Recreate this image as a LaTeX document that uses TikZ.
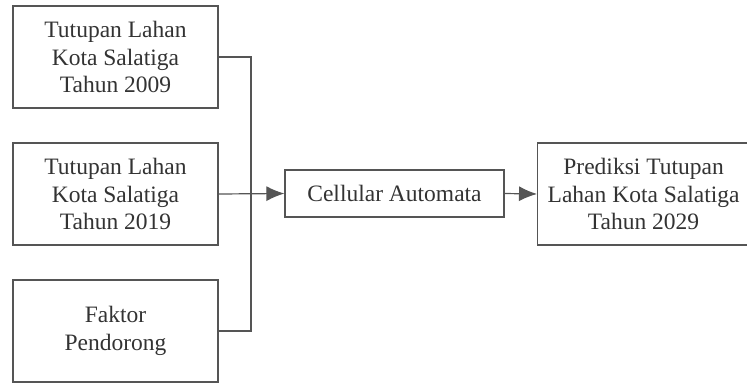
\documentclass[tikz,border=0pt]{standalone}
\usepackage{fontspec}
\setmainfont{Liberation Serif}
\usetikzlibrary{arrows.meta}
\definecolor{ink}{HTML}{333333}
\definecolor{edge}{HTML}{555555}
\tikzset{
  box/.style={draw=edge, line width=1.2pt, text=ink, align=center,
    font=\fontsize{23.5}{27.5}\selectfont, inner sep=0pt},
  link/.style={draw=edge, line width=1.2pt},
  arr/.style={link, -{Latex[length=18pt,width=15pt]}}
}
\begin{document}
\begin{tikzpicture}[x=1pt,y=1pt]
\useasboundingbox (0,0) rectangle (747,-383);
\clip (0,0) rectangle (747,-383);
\node[box, minimum width=205pt, minimum height=102pt] (a) at (115.5,-57) {Tutupan Lahan\\Kota Salatiga\\Tahun 2009};
\node[box, minimum width=205pt, minimum height=102pt] (b) at (115.5,-194) {Tutupan Lahan\\Kota Salatiga\\Tahun 2019};
\node[box, minimum width=205pt, minimum height=102pt] (c) at (115.5,-331) {Faktor\\Pendorong};
\node[box, minimum width=219pt, minimum height=47pt] (ca) at (394.5,-193.5) {Cellular Automata};
\node[box, minimum width=212pt, minimum height=102pt, anchor=west] (p) at (537,-194) {Prediksi Tutupan\\Lahan Kota Salatiga\\Tahun 2029};
\coordinate (top) at (251,-57);
\coordinate (bot) at (251,-331);
\draw[link] (a.east) -- (top) -- (bot) -- (c.east);
\draw[arr] (b.east) -- (ca.west);
\draw[arr] (ca.east) -- (p.west);
\end{tikzpicture}
\end{document}
